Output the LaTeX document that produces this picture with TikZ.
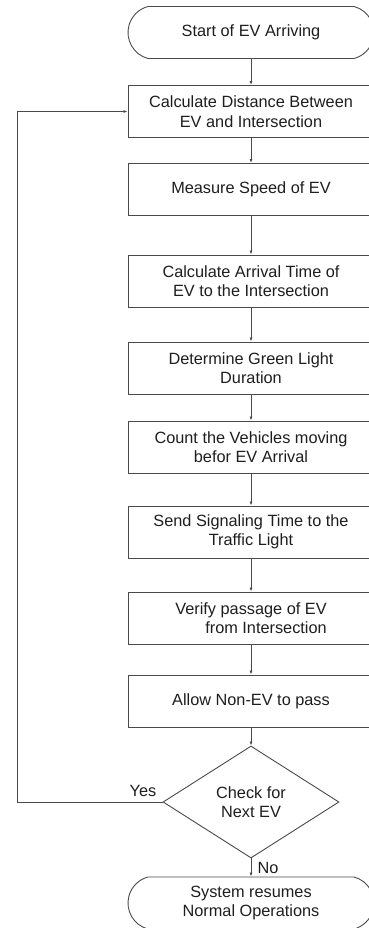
\documentclass[tikz,border=0pt]{standalone}
\usepackage{fontspec}
\setmainfont{Liberation Sans}
\usepackage{xcolor}
\usetikzlibrary{shapes.misc,shapes.geometric,arrows.meta}

\definecolor{linegray}{HTML}{4A4A4A}
\definecolor{textgray}{HTML}{1E1E1E}

\tikzset{
    procbox/.style={
        draw=linegray,
        line width=0.9pt,
        rectangle,
        minimum width=246pt,
        minimum height=52pt,
        inner sep=0pt,
        align=center,
        text=textgray,
        font=\fontsize{16.3}{19.5}\selectfont
    },
    termbox/.style={
        procbox,
        rounded rectangle,
        rounded rectangle arc length=150
    },
    decbox/.style={
        procbox,
        diamond,
        aspect=1.57,
        minimum width=176pt,
        minimum height=112pt
    },
    flowline/.style={
        draw=linegray,
        line width=0.9pt,
        -{Latex[length=4pt,width=3pt]}
    },
    flowlabel/.style={
        text=textgray,
        font=\fontsize{16.3}{19.5}\selectfont
    }
}

\begin{document}
\begin{tikzpicture}[x=1pt,y=-1pt]

                \useasboundingbox (0,0) rectangle (369,928);
                \clip (0,0) rectangle (369,928);

                % steps of the flow
                \node[termbox] (start)    at (251,32.5) {Start of EV Arriving};
                \node[procbox] (distance) at (251,111.5) {Calculate Distance Between\\EV and Intersection};
                \node[procbox] (speed)    at (251,189.5) {Measure Speed of EV};
                \node[procbox] (arrival)  at (251,281) {Calculate Arrival Time of\\EV to the Intersection};
                \node[procbox] (green)    at (251,368) {Determine Green Light\\Duration};
                \node[procbox] (count)    at (251,447) {Count the Vehicles moving\\befor EV Arrival};
                \node[procbox] (signal)   at (251,532) {Send Signaling Time to the\\Traffic Light};
                \node[procbox] (verify)   at (251,618) {Verify passage of EV\\\hspace*{30pt}from Intersection};
                \node[procbox] (allow)    at (251,701) {Allow Non-EV to pass};
                \node[decbox]  (check)    at (251,802) {Check for\\Next EV};
                \node[termbox] (resume)   at (251,903) {System resumes\\Normal Operations};

                % straight arrows down
                \foreach \a/\b in {start/distance, distance/speed, speed/arrival,
                                   arrival/green, green/count, count/signal,
                                   signal/verify, verify/allow, allow/check,
                                   check/resume}
                    \draw[flowline] (\a.south) -- (\b.north);

                % loop back for the next EV
                \coordinate (loopcorner) at (17,802);
                \draw[flowline] (check.west) -- (loopcorner) |- (distance.west);

                \node[flowlabel] (yes) at (143,791) {Yes};
                \node[flowlabel] (no)  at (268,868) {No};

            \end{tikzpicture}
\end{document}
